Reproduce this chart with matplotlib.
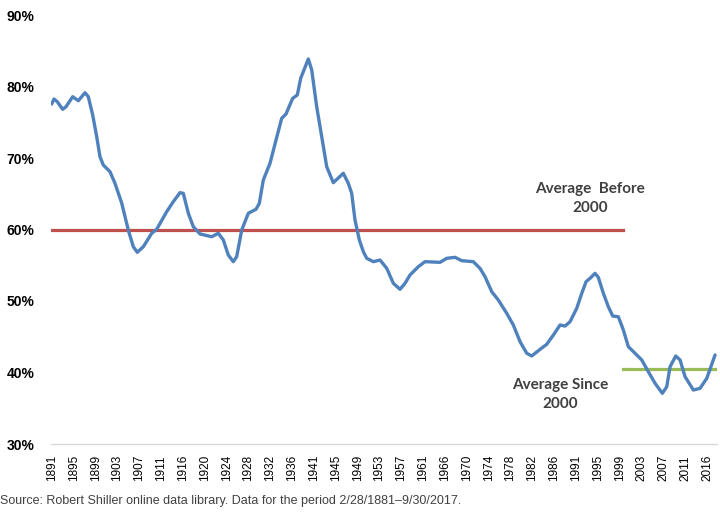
#Share of something over time since 1891, with averages before and since 2000
# Values (Shiller data)

import matplotlib
matplotlib.use('Agg')
import matplotlib.pyplot as plt

###Data
# Fractional years of the traced points
years = [1890.94, 1891.38, 1892.01, 1893.04, 1893.67, 1894.95, 1896.02, 1897.30,
         1897.93, 1898.77, 1899.53, 1900.16, 1900.79, 1902.07, 1903.02, 1904.30,
         1905.56, 1906.52, 1907.28, 1908.43, 1910.03, 1910.98, 1912.89, 1914.15,
         1915.43, 1916.06, 1917.02, 1917.97, 1919.25, 1921.48, 1922.74, 1923.70,
         1924.65, 1925.60, 1926.25, 1927.21, 1928.47, 1929.94, 1930.57, 1931.33,
         1932.61, 1933.76, 1934.84, 1935.66, 1936.94, 1937.82, 1938.47, 1939.92,
         1940.57, 1941.52, 1942.48, 1943.43, 1944.69, 1946.60, 1947.55, 1948.20,
         1948.83, 1949.66, 1950.42, 1951.07, 1952.33, 1953.61, 1954.89, 1956.14,
         1957.42, 1958.38, 1959.33, 1960.92, 1962.19, 1963.78, 1965.06, 1966.34,
         1967.92, 1969.20, 1971.41, 1972.69, 1973.65, 1974.93, 1976.18, 1977.79,
         1979.05, 1980.33, 1981.61, 1982.56, 1984.15, 1985.42, 1986.69, 1987.96,
         1988.92, 1989.87, 1991.15, 1992.11, 1992.93, 1993.69, 1994.64, 1995.27,
         1996.23, 1997.18, 1998.02, 1999.09, 2000.05, 2001.00, 2002.28, 2003.56,
         2004.82, 2006.10, 2007.49, 2008.33, 2008.96, 2010.05, 2010.87, 2011.83,
         2013.41, 2014.69, 2015.97, 2017.55]
# Values in percent
values = [77.55, 78.25, 77.87, 76.81, 77.17, 78.57, 78.01, 79.13,
          78.57, 76.01, 72.98, 70.18, 69.02, 68.08, 66.46, 63.71,
          59.93, 57.59, 56.81, 57.59, 59.47, 60.03, 62.49, 63.89,
          65.15, 65.06, 62.27, 60.39, 59.37, 58.99, 59.47, 58.53,
          56.43, 55.50, 56.20, 59.93, 62.27, 62.83, 63.66, 66.92,
          69.26, 72.52, 75.55, 76.15, 78.35, 78.81, 81.15, 83.85,
          82.31, 77.17, 72.98, 68.78, 66.55, 67.86, 66.46, 65.06,
          61.33, 58.53, 56.90, 55.97, 55.50, 55.73, 54.57, 52.48,
          51.64, 52.48, 53.64, 54.80, 55.50, 55.45, 55.41, 55.97,
          56.11, 55.64, 55.50, 54.57, 53.40, 51.30, 50.14, 48.28,
          46.64, 44.31, 42.69, 42.31, 43.24, 43.94, 45.24, 46.64,
          46.50, 47.10, 48.98, 51.08, 52.70, 53.17, 53.87, 53.31,
          51.08, 49.20, 47.90, 47.80, 45.94, 43.61, 42.69, 41.75,
          40.11, 38.49, 37.09, 38.01, 40.81, 42.31, 41.75, 39.41,
          37.55, 37.79, 39.19, 42.45]

# Averages
avg_before = 60.0
avg_since = 40.5
split_year = 2000.0

# Category labels on the x axis (Excel spacing, every 125/30 years)
tick_labels = ['1891', '1895', '1899', '1903', '1907', '1911', '1916', '1920',
               '1924', '1928', '1932', '1936', '1941', '1945', '1949', '1953',
               '1957', '1961', '1966', '1970', '1974', '1978', '1982', '1986',
               '1991', '1995', '1999', '2003', '2007', '2011', '2016']
tick_pos = [1891 + i * 125 / 30 for i in range(len(tick_labels))]

y_ticks = [30, 40, 50, 60, 70, 80, 90]

###Colours
blue = '#4F81BD'
red = '#C0504D'
green = '#9BBB59'
note_col = '#404040'

###Figure
fig = plt.figure(figsize=(7.2, 5.17), dpi=100)
ax = fig.add_axes([51 / 720, 73 / 517, 666 / 720, 429 / 517])

x_lo, x_hi = 1890.81, 2017.92
ax.plot(years, values, color=blue, lw=2.4, solid_joinstyle='round',
        solid_capstyle='round', zorder=3)
ax.plot([x_lo, split_year], [avg_before, avg_before], color=red, lw=2.3, zorder=2)
ax.plot([split_year, x_hi], [avg_since, avg_since], color=green, lw=2.3, zorder=2)

ax.set_xlim(x_lo, x_hi)
ax.set_ylim(30, 90)

for side in ['top', 'right', 'left']:
    ax.spines[side].set_visible(False)
ax.spines['bottom'].set_color('#D9D9D9')
ax.spines['bottom'].set_linewidth(1.0)

ax.set_yticks(y_ticks)
ax.set_yticklabels(['%d%%' % v for v in y_ticks], fontweight='bold',
                   fontsize=10, family='Liberation Sans')
ax.tick_params(axis='y', length=0, pad=12)

ax.set_xticks(tick_pos)
ax.set_xticklabels(tick_labels, rotation=90, fontsize=8.5,
                   family='Liberation Sans')
ax.tick_params(axis='x', length=0, pad=8)

#Annotations
ax.text(1993.7, 64.36, 'Average  Before\n2000', ha='center', va='center',
        fontsize=11, fontweight='bold', family='Lato', color=note_col,
        linespacing=1.45)
ax.text(1988.06, 36.92, 'Average Since\n2000', ha='center', va='center',
        fontsize=11, fontweight='bold', family='Lato', color=note_col,
        linespacing=1.45)

fig.text(0.0, 1 - 501 / 517, 'Source: Robert Shiller online data library. '
         'Data for the period 2/28/1881\u20139/30/2017.',
         ha='left', va='center', fontsize=9, family='Liberation Sans',
         color='#404040')

fig.savefig('out.png', dpi=100)
